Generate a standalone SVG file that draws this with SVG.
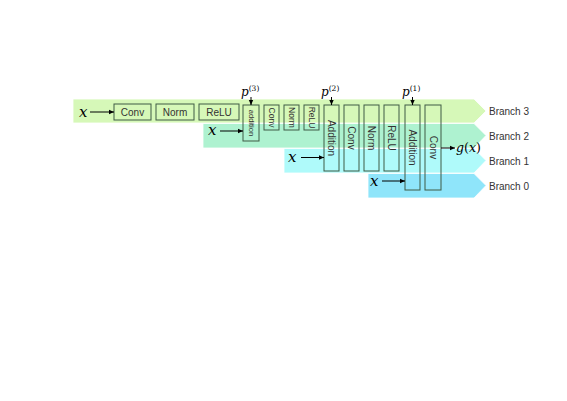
<svg xmlns="http://www.w3.org/2000/svg" width="567" height="401" viewBox="0 0 567 401">
<defs>
<marker id="ah" markerWidth="6" markerHeight="6" refX="5" refY="3" orient="auto" markerUnits="userSpaceOnUse">
<path d="M0,0.8 L5,3 L0,5.2 Z" fill="#000"/>
</marker>
<style>
.box{fill:none;stroke:#3f5a45;stroke-width:1}
.lbl{font-family:"Liberation Sans","DejaVu Sans",sans-serif;font-size:10px;fill:#333;text-anchor:middle;dominant-baseline:central}
.vl{font-family:"Liberation Sans","DejaVu Sans",sans-serif;font-size:10px;fill:#333;text-anchor:middle;dominant-baseline:central}
.vs{font-size:8.5px}
.br{font-family:"Liberation Sans","DejaVu Sans",sans-serif;font-size:10px;fill:#333;dominant-baseline:central}
.math{font-family:"DejaVu Serif","Liberation Serif",serif;font-style:italic;fill:#000}
.ar{stroke:#000;stroke-width:1;fill:none;marker-end:url(#ah)}
</style>
</defs>
<rect width="567" height="401" fill="#fff"/>
<g id="bands">
<polygon id="branch3" points="73,99 474,99 486,111 474,123 73,123" fill="#d6f8b8" stroke="#fff" stroke-width="0.8"/>
<polygon id="branch2" points="203,123.5 474,123.5 486,135.5 474,148 203,148" fill="#aef2d0" stroke="#fff" stroke-width="0.8"/>
<polygon id="branch1" points="284,148.5 474,148.5 486,160.5 474,173 284,173" fill="#affafa" stroke="#fff" stroke-width="0.8"/>
<polygon id="branch0" points="368,173.5 474,173.5 486,185.5 474,198 368,198" fill="#8fe5fa" stroke="#fff" stroke-width="0.8"/>
</g>
<g id="branch-labels">
<text class="br" x="489" y="111">Branch 3</text>
<text class="br" x="489" y="136">Branch 2</text>
<text class="br" x="489" y="161">Branch 1</text>
<text class="br" x="489" y="186">Branch 0</text>
</g>
<g id="row1">
<g id="conv1"><rect class="box" x="114" y="104" width="37" height="16"/><text class="lbl" x="132.5" y="112">Conv</text></g>
<g id="norm1"><rect class="box" x="156" y="104" width="38" height="16"/><text class="lbl" x="175" y="112">Norm</text></g>
<g id="relu1"><rect class="box" x="199" y="104" width="40" height="16"/><text class="lbl" x="219" y="112">ReLU</text></g>
</g>
<g id="add3"><rect class="box" x="243" y="105" width="16" height="36"/><text class="vl" style="font-size:7.5px" transform="translate(251,123) rotate(90)">addition</text></g>
<g id="conv2"><rect class="box" x="264" y="105" width="15" height="25"/><text class="vl vs" transform="translate(271.5,117.5) rotate(90)">Conv</text></g>
<g id="norm2"><rect class="box" x="284" y="105" width="15" height="25"/><text class="vl vs" transform="translate(291.5,117.5) rotate(90)">Norm</text></g>
<g id="relu2"><rect class="box" x="304" y="105" width="15" height="25"/><text class="vl vs" transform="translate(311.5,117.5) rotate(90)">ReLU</text></g>
<g id="add2"><rect class="box" x="324" y="105" width="15" height="66"/><text class="vl" transform="translate(331.5,138) rotate(90)">Addition</text></g>
<g id="conv3"><rect class="box" x="344" y="105" width="15" height="66"/><text class="vl" transform="translate(351.5,138) rotate(90)">Conv</text></g>
<g id="norm3"><rect class="box" x="364" y="105" width="15" height="66"/><text class="vl" transform="translate(371.5,138) rotate(90)">Norm</text></g>
<g id="relu3"><rect class="box" x="384" y="105" width="15" height="66"/><text class="vl" transform="translate(391.5,138) rotate(90)">ReLU</text></g>
<g id="add1"><rect class="box" x="405" y="105" width="15" height="85"/><text class="vl" transform="translate(412.5,147.5) rotate(90)">Addition</text></g>
<g id="conv4"><rect class="box" x="425" y="105" width="16" height="85"/><text class="vl" transform="translate(433,147.5) rotate(90)">Conv</text></g>
<g id="inputs">
<text class="math" x="79" y="117" font-size="15">x</text>
<text class="math" x="208" y="135" font-size="15">x</text>
<text class="math" x="288" y="162" font-size="15">x</text>
<text class="math" x="370" y="186" font-size="15">x</text>
<text class="math" x="241" y="96" font-size="12">p<tspan font-size="7.5" font-style="normal" dy="-5">(3)</tspan></text>
<text class="math" x="321" y="96" font-size="12">p<tspan font-size="7.5" font-style="normal" dy="-5">(2)</tspan></text>
<text class="math" x="402" y="96" font-size="12">p<tspan font-size="7.5" font-style="normal" dy="-5">(1)</tspan></text>
<text class="math" x="456" y="152" font-size="12.5">g<tspan font-style="normal">(</tspan>x<tspan font-style="normal">)</tspan></text>
</g>
<g id="connectors">
<line class="ar" x1="90" y1="112" x2="114" y2="112"/>
<line class="ar" x1="220" y1="131" x2="243" y2="131"/>
<line class="ar" x1="301" y1="157.5" x2="324" y2="157.5"/>
<line class="ar" x1="382" y1="181" x2="405" y2="181"/>
<line class="ar" x1="251" y1="97" x2="251" y2="105"/>
<line class="ar" x1="331.5" y1="97" x2="331.5" y2="105"/>
<line class="ar" x1="412.5" y1="97" x2="412.5" y2="105"/>
<line class="ar" x1="441" y1="148" x2="455" y2="148"/>
</g>
</svg>
